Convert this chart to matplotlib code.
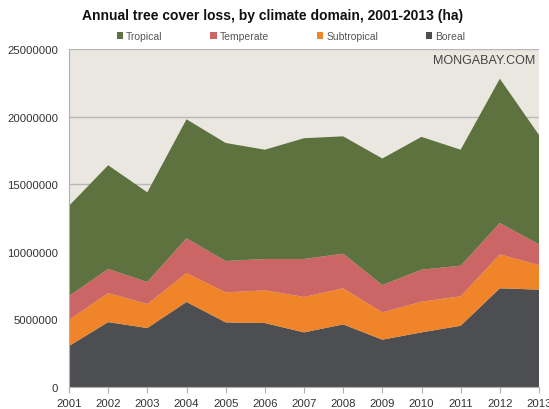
import matplotlib
matplotlib.use("Agg")
import matplotlib.pyplot as plt
from matplotlib.patches import Patch

years = [2001, 2002, 2003, 2004, 2005, 2006, 2007, 2008, 2009, 2010, 2011, 2012, 2013]
boreal = [3030000, 4800000, 4360000, 6290000, 4780000, 4730000, 4040000, 4630000, 3500000, 4040000, 4530000, 7300000, 7200000]
subtropical = [1930000, 2150000, 1780000, 2140000, 2220000, 2420000, 2620000, 2670000, 2020000, 2270000, 2180000, 2510000, 1820000]
temperate = [1770000, 1780000, 1630000, 2570000, 2320000, 2320000, 2810000, 2560000, 2020000, 2370000, 2260000, 2320000, 1530000]
tropical = [6670000, 7670000, 6630000, 8800000, 8730000, 8080000, 8930000, 8680000, 9360000, 9820000, 8580000, 10670000, 8090000]
series_names = ["Tropical", "Temperate", "Subtropical", "Boreal"]
yticks = [0, 5000000, 10000000, 15000000, 20000000, 25000000]

colors = {"Tropical": "#5d723e", "Temperate": "#cc6666", "Subtropical": "#ef8428", "Boreal": "#4c4e52"}

plt.rcParams["font.family"] = ["Liberation Sans", "DejaVu Sans"]

fig = plt.figure(figsize=(5.49, 4.10), dpi=100)
fig.patch.set_facecolor("white")
ax = fig.add_axes([69 / 549, 1 - 388 / 410, 470 / 549, 338 / 410])
ax.set_facecolor("#e9e7e0")

ax.stackplot(years, boreal, subtropical, temperate, tropical,
             colors=[colors["Boreal"], colors["Subtropical"], colors["Temperate"], colors["Tropical"]],
             linewidth=0, zorder=2)

ax.set_xlim(years[0], years[-1])
ax.set_ylim(0, 25000000)
ax.set_yticks(yticks)
ax.set_yticklabels([str(v) for v in yticks])
ax.set_xticks(years)
ax.set_xticklabels([str(y) for y in years])
ax.yaxis.grid(True, color="#b8b8b8", linewidth=1.0, zorder=1)
ax.set_axisbelow(True)

for side in ["top", "right"]:
    ax.spines[side].set_visible(False)
ax.spines["left"].set_color("#b0b0b0")
ax.spines["bottom"].set_color("#b0b0b0")
ax.tick_params(axis="y", length=0, pad=8, labelsize=8.2, labelcolor="#333333")
ax.tick_params(axis="x", length=4, color="#b0b0b0", pad=4, labelsize=8.2, labelcolor="#333333")

fig.text(0.497, 0.962, "Annual tree cover loss, by climate domain, 2001-2013 (ha)",
         ha="center", va="center", fontsize=10, fontweight="bold", color="#111111")

handles = [Patch(facecolor=colors[n], edgecolor="none") for n in series_names]
fig.legend(handles, series_names, loc="center", bbox_to_anchor=(0.53, 0.91), ncol=4,
           frameon=False, fontsize=7.5, handlelength=0.6, handleheight=0.6,
           handletextpad=0.3, columnspacing=4.6, labelcolor="#555555")

ax.text(0.993, 0.985, "MONGABAY.COM", transform=ax.transAxes, ha="right", va="top",
        fontsize=9, color="#444444", zorder=5)

fig.savefig("out.png", dpi=100)
